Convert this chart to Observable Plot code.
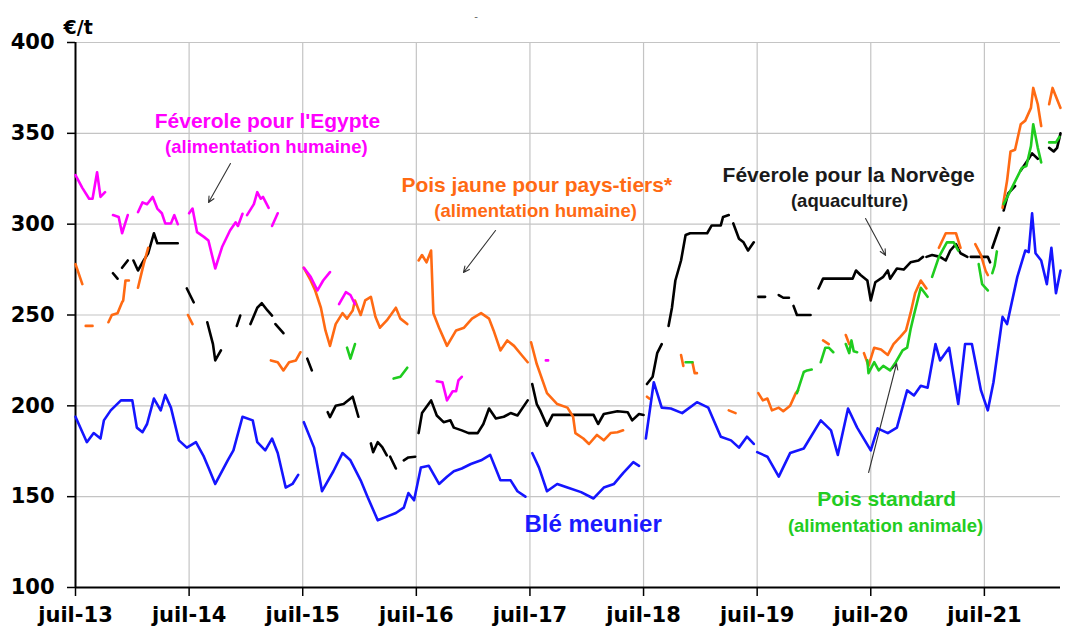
<!DOCTYPE html>
<html>
<head>
<meta charset="utf-8">
<script src="https://cdn.jsdelivr.net/npm/d3@7"></script>
<script src="https://cdn.jsdelivr.net/npm/@observablehq/plot@0.6"></script>
<style>
  html, body { margin: 0; padding: 0; background: #fff; }
  #chart { width: 1066px; height: 631px; }
</style>
</head>
<body>
<div id="chart"></div>
<script>
// ---- Tick labels ----
const xTickValues = [2013.5, 2014.5, 2015.5, 2016.5, 2017.5, 2018.5, 2019.5, 2020.5, 2021.5];
const xTickLabels = ["juil-13", "juil-14", "juil-15", "juil-16", "juil-17", "juil-18", "juil-19", "juil-20", "juil-21"];
const yTickValues = [100, 150, 200, 250, 300, 350, 400];

// ---- Series (decimal year, €/t); null = gap ----
const bleMeunier = [
  [2013.50,194],[2013.60,180],[2013.66,185],[2013.72,182],[2013.75,192],[2013.81,197.5],[2013.90,203],[2014.00,203],
  [2014.04,188],[2014.09,185.5],[2014.13,190],[2014.19,204],[2014.25,197.5],[2014.29,206],[2014.34,199],[2014.41,181],
  [2014.48,177],[2014.56,180],[2014.63,172],[2014.67,166],[2014.73,157],[2014.84,170],[2014.89,175.5],[2014.97,194],
  [2015.06,192],[2015.10,180],[2015.17,175.5],[2015.23,182],[2015.28,174],[2015.35,155],[2015.41,157],[2015.46,162],
  null,
  [2015.51,191],[2015.60,177],[2015.67,153],[2015.77,164],[2015.85,174],[2015.92,170],[2016.01,159],[2016.07,150],
  [2016.16,137],[2016.24,139],[2016.32,141],[2016.39,144],[2016.43,152],[2016.48,148],[2016.54,166],[2016.61,167],
  [2016.70,157],[2016.77,161],[2016.83,164],[2016.90,165.5],[2016.98,168],[2017.07,170],[2017.15,173],[2017.24,159],
  [2017.33,159],[2017.39,153],[2017.46,150],
  null,
  [2017.52,174],[2017.58,166],[2017.65,153],[2017.74,157],[2017.83,155],[2017.95,152.5],[2018.06,149],[2018.15,155],
  [2018.24,157],[2018.32,163],[2018.41,169],[2018.46,167],
  null,
  [2018.52,182],[2018.59,213],[2018.66,199],[2018.74,198.5],[2018.84,196],[2018.97,202],[2019.07,199],[2019.18,183],
  [2019.27,181],[2019.34,177],[2019.41,183],[2019.47,179],
  null,
  [2019.50,174.5],[2019.59,172],[2019.69,161],[2019.79,174],[2019.91,176.5],[2020.06,192],[2020.15,186.5],[2020.21,173],
  [2020.30,198.5],[2020.38,188],[2020.50,175.5],[2020.56,187.6],[2020.65,185],[2020.73,188],[2020.82,208.5],[2020.88,205.7],
  [2020.94,211],[2021.00,210],[2021.07,234],[2021.11,225],[2021.19,232],[2021.27,201],[2021.33,234],[2021.39,234],
  [2021.47,208.5],[2021.53,197.5],[2021.58,213],[2021.66,249],[2021.70,245],[2021.79,271],[2021.86,285.5],[2021.89,284.6],
  [2021.92,306],[2021.95,284],[2022.00,280],[2022.05,267],[2022.09,287],[2022.13,262],[2022.17,274.5]
];

const feveroleNorvege = [
  [2013.83,273],[2013.87,270], null,
  [2013.91,276],[2013.96,280], null,
  [2014.01,280],[2014.05,274.5],[2014.10,280],[2014.14,284],[2014.19,295],[2014.22,289.5],[2014.40,289.5], null,
  [2014.48,264.6],[2014.54,257], null,
  [2014.66,246],[2014.71,234],[2014.73,225],[2014.78,230.5], null,
  [2014.92,244],[2014.95,249.7], null,
  [2015.04,245],[2015.10,254],[2015.14,256.5],[2015.19,252.5],[2015.23,249.7], null,
  [2015.26,245],[2015.33,240], null,
  [2015.54,226],[2015.58,219.5], null,
  [2015.72,196.5],[2015.74,193.8],[2015.79,200],[2015.86,201],[2015.94,205],[2015.99,194], null,
  [2016.10,179.3],[2016.12,174.5],[2016.16,180],[2016.20,177.3],[2016.24,172.7], null,
  [2016.27,172],[2016.32,165.5], null,
  [2016.39,170],[2016.43,171.6],[2016.49,172], null,
  [2016.52,185],[2016.55,196],[2016.63,203],[2016.68,194.7],[2016.74,191],[2016.80,192],[2016.83,188],[2016.90,186.5],
  [2016.96,185],[2017.04,185],[2017.09,190],[2017.14,198.5],[2017.20,193],[2017.27,194],[2017.33,196],[2017.39,194.7],[2017.48,203], null,
  [2017.52,212],[2017.56,201],[2017.59,197.5],[2017.65,189],[2017.70,195],[2018.06,195],[2018.10,190],[2018.15,195.5],
  [2018.27,197],[2018.36,196.5],[2018.40,192],[2018.46,195.5],[2018.50,195], null,
  [2018.53,212],[2018.58,216],[2018.62,229],[2018.66,234], null,
  [2018.72,244],[2018.75,254],[2018.78,269],[2018.83,280],[2018.87,294],[2018.91,295],[2019.06,295],[2019.10,299.3],
  [2019.18,299.3],[2019.20,304],[2019.25,305], null,
  [2019.29,300.4],[2019.34,292],[2019.38,290],[2019.42,285.5],[2019.47,290], null,
  [2019.51,260],[2019.57,260], null,
  [2019.69,261],[2019.73,259.5],[2019.78,259.5], null,
  [2019.82,255],[2019.85,250],[2019.97,250], null,
  [2020.04,264.6],[2020.08,270],[2020.34,270],[2020.37,274.5],[2020.41,272],[2020.47,269],[2020.50,258],[2020.54,268],
  [2020.61,271],[2020.65,274.5],[2020.67,270],[2020.73,275.6],[2020.79,275],[2020.85,279],[2020.92,280],[2020.96,282], null,
  [2020.99,282],[2021.04,283],[2021.11,282],[2021.16,280],[2021.20,285.5],[2021.25,289],[2021.29,284],[2021.35,282], null,
  [2021.38,282],[2021.53,282],[2021.55,279], null,
  [2021.57,287],[2021.63,298], null,
  [2021.67,307.5],[2021.71,317],[2021.77,321], null,
  [2021.82,329.5],[2021.88,335],[2021.92,339],[2021.97,336], null,
  [2022.07,342],[2022.11,340],[2022.14,342],[2022.17,350]
];

const poisJaune = [
  [2013.50,278],[2013.56,267], null,
  [2013.59,244],[2013.65,244], null,
  [2013.79,246],[2013.82,250],[2013.87,251],[2013.91,257],[2013.92,258],[2013.94,269],[2013.97,269], null,
  [2014.05,265],[2014.10,278],[2014.14,287], null,
  [2014.49,250],[2014.53,245], null,
  [2015.22,225],[2015.28,224],[2015.33,219.5],[2015.38,224],[2015.44,225],[2015.48,229.5], null,
  [2015.51,276],[2015.57,269],[2015.61,263.5],[2015.66,254],[2015.70,241.5],[2015.74,233],[2015.79,245],[2015.85,251],
  [2015.89,248],[2015.94,252.5],[2015.96,258],[2016.01,250],[2016.05,258],[2016.10,260],[2016.14,249],[2016.18,243],
  [2016.24,247],[2016.32,254],[2016.36,248],[2016.42,245], null,
  [2016.52,280],[2016.55,283],[2016.59,279],[2016.63,285.5],[2016.65,251],[2016.70,243],[2016.77,233],[2016.85,241.5],
  [2016.92,243],[2016.99,248],[2017.07,251],[2017.14,248],[2017.18,241.5],[2017.24,230.5],[2017.30,236],[2017.36,233],
  [2017.43,227.7],[2017.48,224], null,
  [2017.51,235],[2017.56,223],[2017.65,207],[2017.74,201],[2017.83,199],[2017.88,194],[2017.90,185],[2017.97,182],
  [2018.02,179],[2018.09,184],[2018.15,181],[2018.21,185],[2018.27,185.5],[2018.32,186.5], null,
  [2018.53,205],[2018.55,204], null,
  [2018.83,228],[2018.85,222], null,
  [2018.93,224],[2018.95,218],[2018.97,218], null,
  [2019.25,197.5],[2019.31,196], null,
  [2019.51,207],[2019.55,203],[2019.59,204],[2019.63,197.5],[2019.69,199],[2019.73,197],[2019.79,200],[2019.84,207],[2019.86,208.5], null,
  [2020.08,236],[2020.13,234], null,
  [2020.28,239],[2020.31,234], null,
  [2020.44,229],[2020.48,222],[2020.53,232],[2020.59,231],[2020.65,228],[2020.70,234],[2020.76,238],[2020.81,241.5],
  [2020.85,251],[2020.89,262],[2020.94,269],[2020.99,264.6], null,
  [2021.10,287],[2021.16,295],[2021.25,295],[2021.29,287], null,
  [2021.42,289],[2021.47,283],[2021.51,274.5],[2021.53,272], null,
  [2021.66,309],[2021.70,324],[2021.73,340],[2021.77,341],[2021.82,355],[2021.86,357],[2021.91,364],[2021.93,375],
  [2021.97,366],[2022.00,354], null,
  [2022.07,366],[2022.10,375],[2022.17,364]
];

const poisStandard = [
  [2015.89,232],[2015.92,226],[2015.96,234], null,
  [2016.30,215],[2016.36,216],[2016.42,221], null,
  [2018.87,224],[2018.93,224], null,
  [2019.85,207],[2019.91,218.6],[2019.94,219.5],[2019.98,220], null,
  [2020.06,224],[2020.10,232],[2020.13,232],[2020.17,229.5], null,
  [2020.28,234],[2020.31,229],[2020.33,236],[2020.35,230],[2020.38,229.5], null,
  [2020.47,225],[2020.48,218],[2020.53,224],[2020.57,219.5],[2020.61,222],[2020.67,219.5],[2020.72,224],[2020.78,230.5],
  [2020.82,232],[2020.85,242],[2020.88,250],[2020.94,265],[2021.00,260], null,
  [2021.04,271],[2021.10,282],[2021.17,290],[2021.23,290],[2021.27,285.5], null,
  [2021.45,278],[2021.48,267],[2021.53,263.5], null,
  [2021.57,273],[2021.59,277],[2021.61,285], null,
  [2021.67,311],[2021.73,318.5],[2021.79,326],[2021.83,331],[2021.87,332],[2021.91,343],[2021.93,355],[2021.97,342],[2022.00,334], null,
  [2022.07,345],[2022.13,345],[2022.16,348]
];

const feveroleEgypte = [
  [2013.50,327],[2013.56,320],[2013.62,314],[2013.65,314],[2013.69,328.6],[2013.72,315],[2013.76,317.6], null,
  [2013.83,305],[2013.88,304],[2013.91,295],[2013.96,305], null,
  [2014.05,306.6],[2014.09,312],[2014.13,311],[2014.18,315],[2014.22,308.6],[2014.26,306],[2014.29,300.4],[2014.34,300.4],
  [2014.37,305],[2014.40,300], null,
  [2014.50,306],[2014.53,308.6],[2014.57,295.6],[2014.63,293],[2014.67,291],[2014.73,275.6],[2014.79,287.4],[2014.86,296.5],
  [2014.91,301],[2014.93,299],[2014.97,305.7], null,
  [2015.01,305],[2015.07,311],[2015.10,317.6],[2015.13,314],[2015.15,315],[2015.20,309], null,
  [2015.23,299],[2015.28,306], null,
  [2015.51,276],[2015.57,271],[2015.63,263.5],[2015.68,269],[2015.74,273.6], null,
  [2015.82,256],[2015.88,262.6],[2015.92,261],[2015.96,256], null,
  [2016.68,213.5],[2016.73,213],[2016.77,203],[2016.82,208],[2016.85,208],[2016.87,214],[2016.90,216], null,
  [2017.64,225],[2017.66,225]
];

// ---- Annotation texts ----
const labels = [
  {text: "Féverole pour l'Egypte", x: 2015.19, y: 352.7, color: "#ff00ff", size: 21},
  {text: "(alimentation humaine)", x: 2015.18, y: 338.9, color: "#ff00ff", size: 18.5},
  {text: "Pois jaune pour pays-tiers*", x: 2017.56, y: 317.7, color: "#ff6a13", size: 21},
  {text: "(alimentation humaine)", x: 2017.55, y: 303.9, color: "#ff6a13", size: 18.5},
  {text: "Féverole pour la Norvège", x: 2020.305, y: 323.2, color: "#1a1a1a", size: 21},
  {text: "(aquaculture)", x: 2020.313, y: 309.5, color: "#1a1a1a", size: 18.5},
  {text: "Blé meunier", x: 2018.056, y: 130.6, color: "#1a1aff", size: 24},
  {text: "Pois standard", x: 2020.64, y: 145.1, color: "#22cc22", size: 21},
  {text: "(alimentation animale)", x: 2020.63, y: 130.6, color: "#22cc22", size: 18.5}
];
const arrows = [
  {x1: 2014.864, y1: 333.4, x2: 2014.671, y2: 311.9},
  {x1: 2017.197, y1: 296.5, x2: 2016.915, y2: 273.4},
  {x1: 2020.454, y1: 303.1, x2: 2020.63, y2: 282.8},
  {x1: 2020.481, y1: 163.3, x2: 2020.727, y2: 223.3}
];

const toPts = arr => arr.map(d => d ? {x: d[0], y: d[1]} : {x: NaN, y: NaN});

const series = [
  {data: feveroleNorvege, color: "#000000"},
  {data: poisJaune, color: "#ff6a13"},
  {data: poisStandard, color: "#1fcc1f"},
  {data: feveroleEgypte, color: "#ff00ff"},
  {data: bleMeunier, color: "#1515ff"}
];

const font = "'Liberation Sans', Arial, Helvetica, sans-serif";
const tickFont = "'DejaVu Sans', Verdana, sans-serif";

const chart = Plot.plot({
  width: 1066,
  height: 631,
  marginLeft: 75,
  marginRight: 6,
  marginTop: 42,
  marginBottom: 44,
  style: {fontFamily: font, background: "#fff", color: "#000", overflow: "visible"},
  x: {domain: [2013.5, 2022.17]},
  y: {domain: [100, 400]},
  marks: [
    Plot.gridY(yTickValues.filter(v => v > 100), {stroke: "#c4c4c4", strokeOpacity: 1, strokeWidth: 1.2}),
    Plot.gridX(xTickValues.filter(v => v > 2013.5), {stroke: "#c4c4c4", strokeOpacity: 1, strokeWidth: 1.2}),
    Plot.axisY(yTickValues, {
      tickSize: 8, tickPadding: 13, fontSize: 21, fontWeight: "bold", fontFamily: tickFont, label: null, strokeWidth: 1.5
    }),
    Plot.axisX(xTickValues, {
      tickSize: 9, tickPadding: 11, fontSize: 21, fontWeight: "bold", fontFamily: tickFont, label: null, strokeWidth: 1.5,
      tickFormat: v => xTickLabels[xTickValues.indexOf(v)]
    }),
    Plot.ruleY([100], {stroke: "#000", strokeWidth: 2}),
    Plot.ruleX([2013.5], {stroke: "#000", strokeWidth: 2}),
    ...series.map(s => Plot.line(toPts(s.data), {x: "x", y: "y", stroke: s.color, strokeWidth: 2.6, strokeLinejoin: "round", strokeLinecap: "round"})),
    Plot.arrow(arrows, {x1: "x1", y1: "y1", x2: "x2", y2: "y2", stroke: "#333", strokeWidth: 1.1, headLength: 9, headAngle: 50}),
    ...labels.map(l => Plot.text([l], {
      x: "x", y: "y", text: "text", fill: l.color, fontSize: l.size, fontWeight: "bold",
      textAnchor: "middle", lineAnchor: "bottom"
    })),
    Plot.text(["€/t"], {frameAnchor: "top-left", dx: -12, dy: -9, textAnchor: "start", lineAnchor: "bottom", fontSize: 19, fontWeight: "bold", fontFamily: tickFont, fill: "#000"}),
    Plot.text(["-"], {frameAnchor: "top", dx: -92, dy: -30, fontSize: 11, fill: "#666"})
  ]
});

document.getElementById("chart").appendChild(chart);
</script>
</body>
</html>
